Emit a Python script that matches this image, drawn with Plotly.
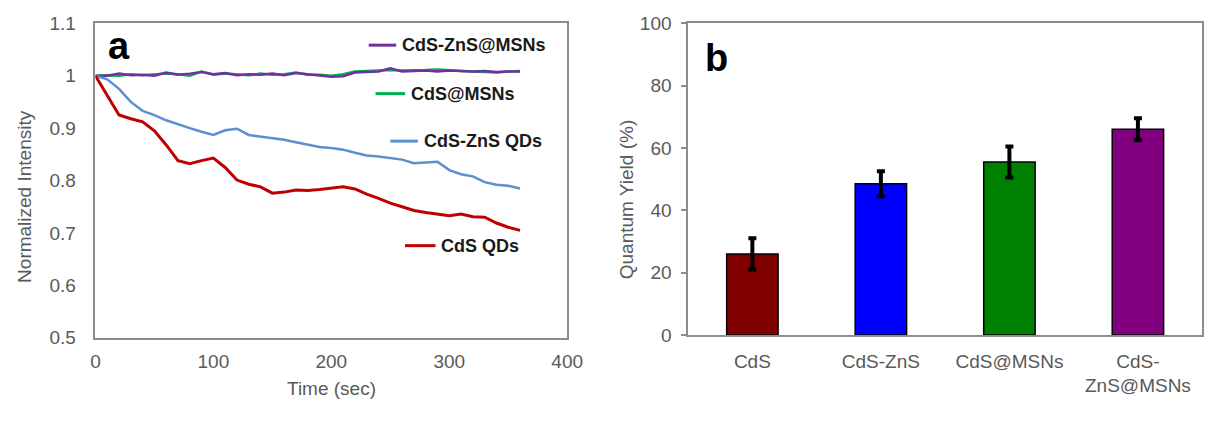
import plotly.graph_objects as go

# ---- Panel a: photostability (normalized PL intensity vs time) ----
time_s = [0, 10, 20, 30, 40, 50, 60, 70, 80, 90, 100, 110, 120, 130, 140, 150, 160, 170, 180,
          190, 200, 210, 220, 230, 240, 250, 260, 270, 280, 290, 300, 310, 320, 330, 340, 350, 360]

cds_qds = [1.0, 0.962, 0.925, 0.918, 0.912, 0.895, 0.868, 0.838, 0.832, 0.838, 0.843, 0.825,
           0.801, 0.793, 0.788, 0.776, 0.778, 0.782, 0.781, 0.783, 0.786, 0.788, 0.784, 0.774,
           0.766, 0.757, 0.750, 0.743, 0.739, 0.736, 0.733, 0.736, 0.731, 0.730, 0.719, 0.711, 0.705]

cds_zns_qds = [1.0, 0.993, 0.975, 0.950, 0.933, 0.925, 0.915, 0.907, 0.900, 0.893, 0.887, 0.896,
               0.899, 0.887, 0.884, 0.881, 0.878, 0.873, 0.868, 0.864, 0.862, 0.859, 0.853, 0.848,
               0.846, 0.843, 0.840, 0.833, 0.834, 0.836, 0.820, 0.812, 0.808, 0.797, 0.792, 0.790, 0.785]

cds_msns = [1.0, 1.001, 1.000, 1.003, 1.001, 1.002, 1.004, 1.003, 1.000, 1.008, 1.002, 1.004,
            1.003, 1.001, 1.004, 1.002, 1.003, 1.006, 1.002, 1.002, 1.000, 1.003, 1.008, 1.009,
            1.010, 1.011, 1.010, 1.010, 1.011, 1.012, 1.010, 1.009, 1.008, 1.007, 1.006, 1.008, 1.009]

cds_zns_msns = [1.0, 1.000, 1.004, 1.001, 1.002, 1.000, 1.006, 1.002, 1.004, 1.007, 1.003, 1.005,
                1.001, 1.003, 1.002, 1.004, 1.001, 1.005, 1.003, 1.000, 0.998, 0.999, 1.006, 1.007,
                1.008, 1.014, 1.008, 1.009, 1.010, 1.008, 1.010, 1.009, 1.008, 1.009, 1.007, 1.008, 1.008]

series_names = ["CdS-ZnS@MSNs", "CdS@MSNs", "CdS-ZnS QDs", "CdS QDs"]
series_colors = ["#7030A0", "#00B050", "#5B8FD0", "#C00000"]

# ---- Panel b: quantum yield ----
qy_labels = ["CdS", "CdS-ZnS", "CdS@MSNs", "CdS-<br>ZnS@MSNs"]
qy_values = [26, 48.5, 55.5, 66]
qy_errors = [5, 4, 5, 3.5]
qy_colors = ["#800000", "#0000FF", "#008000", "#800080"]

FONT = "Liberation Sans, Arial, sans-serif"
GREY = "#595959"
AXIS = "#8C8C8C"

fig = go.Figure()

series_values = [cds_zns_msns, cds_msns, cds_zns_qds, cds_qds]
draw_order = [1, 0, 2, 3]
for i in draw_order:
    fig.add_trace(go.Scatter(
        x=time_s, y=series_values[i], mode="lines", name=series_names[i],
        line=dict(color=series_colors[i], width=3 if i == 3 else 2.5),
        xaxis="x", yaxis="y", showlegend=False))

fig.add_trace(go.Bar(
    x=qy_labels, y=qy_values, width=0.4,
    marker=dict(color=qy_colors, line=dict(color="black", width=1.5)),
    error_y=dict(type="data", array=qy_errors, visible=True, color="black",
                 thickness=4, width=4),
    xaxis="x2", yaxis="y2", showlegend=False))

W, H = 1228, 422
ax_l, ax_r = 92 / W, 572 / W
bx_l, bx_r = 695 / W, 1218 / W
a_top, a_bot = 1 - 14 / H, 1 - 345 / H
b_top, b_bot = 1 - 14 / H, 1 - 342 / H

tickfont = dict(family=FONT, size=19, color=GREY)

fig.update_layout(
    width=W, height=H,
    margin=dict(l=0, r=0, t=0, b=0),
    paper_bgcolor="white", plot_bgcolor="white",
    font=dict(family=FONT),
    xaxis=dict(domain=[ax_l, ax_r], range=[0, 400], dtick=100, showgrid=False, zeroline=False,
               showline=True, linecolor=AXIS, linewidth=1.5, mirror=True, ticks="",
               tickfont=tickfont, anchor="y", ticklabelstandoff=6),
    yaxis=dict(domain=[a_bot, a_top], range=[0.5, 1.1], dtick=0.1, showgrid=False, zeroline=False,
               showline=True, linecolor=AXIS, linewidth=1.5, mirror=True, ticks="",
               tickfont=tickfont, anchor="x", ticklabelstandoff=14),
    xaxis2=dict(domain=[bx_l, bx_r], showgrid=False, zeroline=False,
                showline=True, linecolor=AXIS, linewidth=1.5, mirror=True, ticks="",
                tickfont=tickfont, anchor="y2", ticklabelstandoff=8),
    yaxis2=dict(domain=[b_bot, b_top], range=[0, 100], dtick=20, showgrid=False, zeroline=False,
                showline=True, linecolor=AXIS, linewidth=1.5, mirror=True, ticks="outside",
                ticklen=5, tickcolor=AXIS, tickwidth=1.5,
                tickfont=tickfont, anchor="x2", ticklabelstandoff=6),
)

annotations = [
    dict(text="Normalized Intensity", x=20 / W, y=1 - 196 / H, textangle=-90,
         font=dict(family=FONT, size=19, color=GREY)),
    dict(text="Time (sec)", x=332 / W, y=1 - 398 / H,
         font=dict(family=FONT, size=19, color=GREY)),
    dict(text="Quantum Yield (%)", x=632 / W, y=1 - 200 / H, textangle=-90,
         font=dict(family=FONT, size=19, color=GREY)),
    dict(text="<b>a</b>", x=116 / W, y=1 - 38 / H,
         font=dict(family=FONT, size=38, color="black")),
    dict(text="<b>b</b>", x=724 / W, y=1 - 50 / H,
         font=dict(family=FONT, size=38, color="black")),
]
for a in annotations:
    a.update(xref="paper", yref="paper", showarrow=False, xanchor="center", yanchor="middle")

# in-plot legend: short colored key line followed by bold label
legend_pos = [(370, 398, 37), (377, 407, 88), (392, 420, 138), (407, 438, 248)]
shapes = []
for name, color, (x0, x1, yc) in zip(series_names, series_colors, legend_pos):
    shapes.append(dict(type="line", xref="paper", yref="paper",
                       x0=x0 / W, x1=x1 / W, y0=1 - yc / H, y1=1 - yc / H,
                       line=dict(color=color, width=3)))
    annotations.append(dict(text=f"<b>{name}</b>", xref="paper", yref="paper",
                            x=(x1 + 4) / W, y=1 - yc / H, xanchor="left", yanchor="middle",
                            showarrow=False, font=dict(family=FONT, size=18, color="#1A1A1A")))

fig.update_layout(annotations=annotations, shapes=shapes)

fig.write_html("out.html")
